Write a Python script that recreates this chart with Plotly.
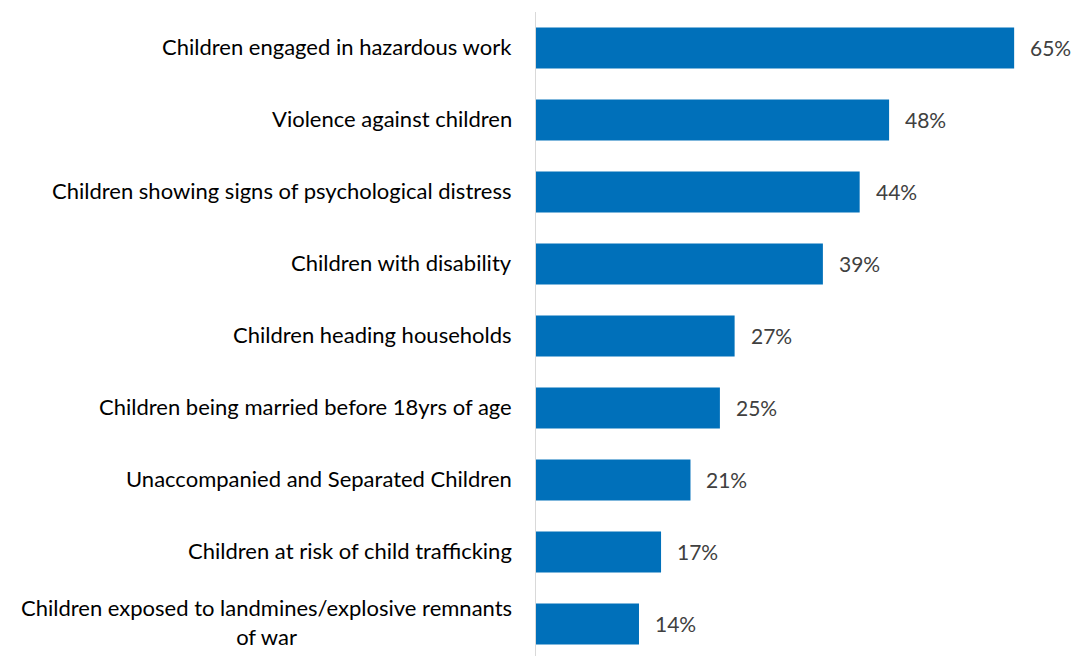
import plotly.graph_objects as go

categories = [
    "Children engaged in hazardous work",
    "Violence against children",
    "Children showing signs of psychological distress",
    "Children with disability",
    "Children heading households",
    "Children being married before 18yrs of age",
    "Unaccompanied and Separated Children",
    "Children at risk of child trafficking",
    "Children exposed to landmines/explosive remnants<br>of war",
]
values = [65, 48, 44, 39, 27, 25, 21, 17, 14]
value_labels = [f"{v}%" for v in values]

BAR_COLOR = "#0070BA"
FONT = "Lato"

fig = go.Figure(
    go.Bar(
        x=values,
        y=list(range(len(categories))),
        orientation="h",
        marker=dict(color=BAR_COLOR, line=dict(width=0)),
        hoverinfo="skip",
    )
)

annotations = []
for i, (cat, lab, v) in enumerate(zip(categories, value_labels, values)):
    # category label, right-aligned to the axis, centred lines
    annotations.append(dict(
        x=0, xref="x", y=i, yref="y", text=cat, showarrow=False,
        xanchor="right", yanchor="middle", align="center",
        xshift=-22, yshift=2,
        font=dict(family=FONT, size=22, color="#000000"),
    ))
    # value label just past the bar end
    annotations.append(dict(
        x=v, xref="x", y=i, yref="y", text=lab, showarrow=False,
        xanchor="left", yanchor="middle", xshift=14, yshift=1,
        font=dict(family=FONT, size=21, color="#404040"),
    ))

fig.update_layout(
    width=1073, height=656,
    margin=dict(l=536, r=0, t=12, b=0),
    paper_bgcolor="white", plot_bgcolor="white",
    bargap=0.43,
    showlegend=False,
    annotations=annotations,
    xaxis=dict(range=[0, 73], showgrid=False, zeroline=False,
               showticklabels=False, showline=False, fixedrange=True),
    yaxis=dict(range=[8.5 - 4 / 72, -0.5], showgrid=False, zeroline=False,
               showticklabels=False, showline=True, linecolor="#D9D9D9",
               linewidth=1, fixedrange=True),
)

fig.write_html("out.html")
